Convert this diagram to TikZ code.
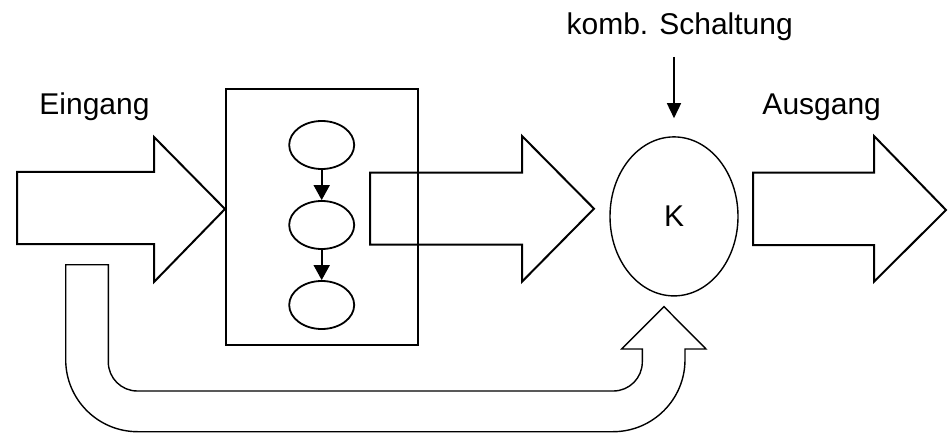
\documentclass[tikz,border=0pt]{standalone}
\usepackage{fontspec}
\setmainfont{Liberation Sans}
\usetikzlibrary{shapes.geometric,arrows.meta}
\begin{document}
\begin{tikzpicture}[x=1pt,y=-1pt,
  lbl/.style={font=\fontsize{30}{36}\selectfont,anchor=base,inner sep=0pt},
  blockarrow/.style={draw=black,line width=2pt,fill=white,line join=miter},
  uarrow/.style={draw=black,line width=1.4pt,fill=white},
  small/.style={ellipse,draw=black,line width=1.8pt,minimum width=65pt,minimum height=48pt,inner sep=0pt},
  conn/.style={line width=1.8pt,-{Triangle[width=16pt,length=15pt]}}
]
\useasboundingbox (0,0) rectangle (948,433);
% labels
\node[lbl] (ein) at (94.5,115) {Eingang};
\node[lbl] (aus) at (821.7,114.5) {Ausgang};
\node[lbl] (komb) at (679.7,35) {komb. Schaltung};
% left big arrow
\draw[blockarrow] (17,172) -- (154,172) -- (154,137) -- (225,209) -- (154,282) -- (154,244) -- (17,244) -- cycle;
% U-shaped arrow
\draw[uarrow] (65.7,264.7) -- (108.3,264.7) -- (108.3,362)
  arc[start angle=180,end angle=90,radius=29] -- (613.3,391)
  arc[start angle=90,end angle=0,radius=29] -- (642.3,349) -- (621.7,349) -- (664,306.7)
  -- (706,349) -- (685,349) -- (685,359.7)
  arc[start angle=0,end angle=90,radius=72] -- (137.7,431.7)
  arc[start angle=90,end angle=180,radius=72] -- cycle;
% rectangle with state graph
\draw[line width=2.2pt] (225.7,89) rectangle (418,345);
\node[small] (e1) at (321.7,145) {};
\node[small] (e2) at (321.7,225) {};
\node[small] (e3) at (321.7,305) {};
\draw[conn] (e1) -- (e2);
\draw[conn] (e2) -- (e3);
% middle big arrow (outline only, crossing rectangle)
\draw[line width=2pt,line join=miter] (370,172.7) -- (522,172.7) -- (522,136) -- (594,208.7) -- (522,281.7) -- (522,244.7) -- (370,244.7) -- cycle;
% K
\node[ellipse,draw=black,line width=1.4pt,minimum width=128pt,minimum height=159pt,inner sep=0pt,font=\fontsize{30}{36}\selectfont] (K) at (674,216.4) {K};
\coordinate (ktop) at (674,57);
\draw[line width=1.6pt,-{Triangle[width=14pt,length=15pt]},shorten >=18pt] (ktop) -- (K.north);
% right big arrow
\draw[blockarrow] (753,172.7) -- (874,172.7) -- (874,136) -- (946,210) -- (874,281.7) -- (874,245) -- (753,245) -- cycle;
\end{tikzpicture}
\end{document}
